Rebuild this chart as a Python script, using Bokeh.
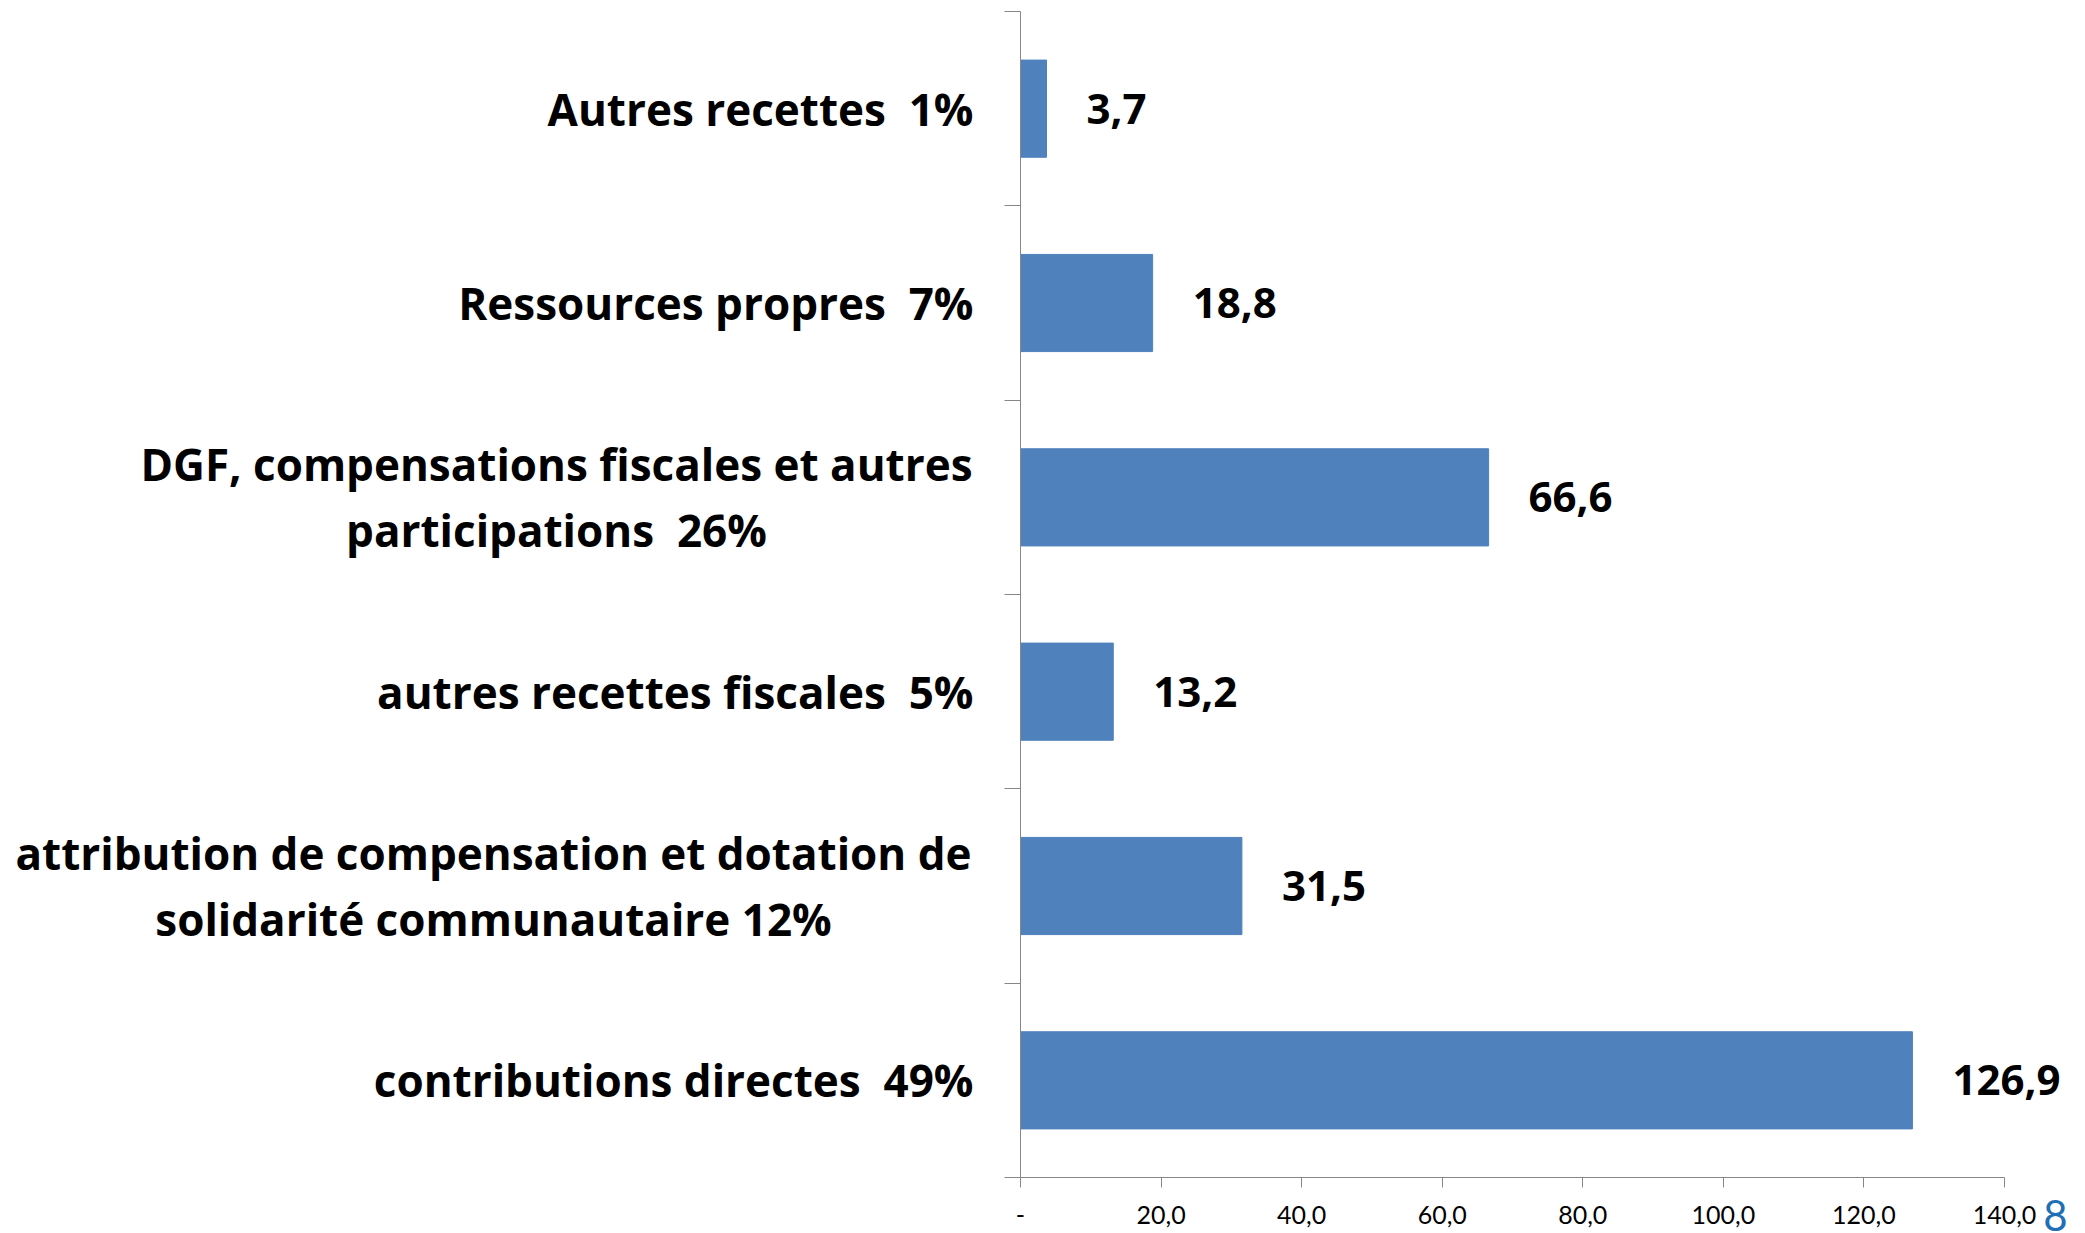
from bokeh.plotting import figure
from bokeh.models import Range1d, FixedTicker, Label, LabelSet, ColumnDataSource
from bokeh.core.properties import value
from bokeh.embed import file_html
from bokeh.resources import INLINE

NB = "\u00a0"  # keeps the double space visible in SVG text

# data (bottom to top)
categories = [
    f"contributions directes{NB} 49%",
    "attribution de compensation et dotation de\nsolidarité communautaire 12%",
    f"autres recettes fiscales{NB} 5%",
    f"DGF, compensations fiscales et autres\nparticipations{NB} 26%",
    f"Ressources propres{NB} 7%",
    f"Autres recettes{NB} 1%",
]
values = [126.9, 31.5, 13.2, 66.6, 18.8, 3.7]
x_ticks = [0, 20, 40, 60, 80, 100, 120, 140]
x_tick_labels = ["-", "20,0", "40,0", "60,0", "80,0", "100,0", "120,0", "140,0"]

FONT = "Lato"
BOLD_FONT = "Open Sans"
W, H = 2077, 1233
# layout (pixels on the canvas)
X0_PX, XMAX_PX = 1020, 2004
Y0_PX, YTOP_PX = 1177, 11
XMAX = 140
NCAT = len(values)

xs = (XMAX_PX - X0_PX) / XMAX
ys_ = (Y0_PX - YTOP_PX) / NCAT
x_range = Range1d(-X0_PX / xs, (W - X0_PX) / xs)
y_range = Range1d(-(H - Y0_PX) / ys_, NCAT + YTOP_PX / ys_)

p = figure(width=W, height=H, output_backend="svg", toolbar_location=None,
           x_range=x_range, y_range=y_range,
           min_border_left=0, min_border_right=0, min_border_top=0,
           min_border_bottom=0)
p.outline_line_color = None
p.xgrid.visible = False
p.ygrid.visible = False
p.background_fill_color = "white"

ys = [i + 0.5 for i in range(NCAT)]
src = ColumnDataSource(dict(y=ys, v=values,
                            lab=[f"{v:.1f}".replace(".", ",") for v in values]))
p.hbar(y="y", right="v", left=0, height=0.5, source=src,
       fill_color="#4F81BD", line_color="#4F81BD")

labels = LabelSet(x="v", y="y", text="lab", source=src, x_offset=40,
                  text_align="left", text_baseline="middle",
                  text_font=value(BOLD_FONT), text_font_style="bold",
                  text_font_size="42px", text_color="black")
p.add_layout(labels)

# x axis
xa = p.xaxis[0]
xa.fixed_location = 0
xa.bounds = (0, XMAX)
xa.ticker = FixedTicker(ticks=x_ticks, minor_ticks=[])
xa.major_label_overrides = {t: l for t, l in zip(x_ticks, x_tick_labels)}
xa.axis_line_color = "#878787"
xa.major_tick_line_color = "#878787"
xa.major_tick_out = 10
xa.major_tick_in = 0
xa.major_label_standoff = 18
xa.major_label_text_font = FONT
xa.major_label_text_font_size = "25px"
xa.major_label_text_color = "black"

# y axis
ya = p.yaxis[0]
ya.fixed_location = 0
ya.bounds = (0, NCAT)
ya.ticker = FixedTicker(ticks=[], minor_ticks=list(range(NCAT + 1)))
ya.axis_line_color = "#878787"
ya.minor_tick_line_color = "#878787"
ya.minor_tick_out = 16
ya.minor_tick_in = 0
ya.major_tick_line_color = None
ya.major_label_text_font_size = "0px"

# category labels
center_offsets = {1: -527, 3: -464}
for i, (c, y) in enumerate(zip(categories, ys)):
    if "\n" in c:
        lab = Label(x=0, y=y, x_units="data", y_units="data", text=c,
                    x_offset=center_offsets[i], text_align="center",
                    text_baseline="middle", text_line_height=1.1,
                    text_font=BOLD_FONT, text_font_style="bold",
                    text_font_size="44px", text_color="black")
    else:
        lab = Label(x=0, y=y, x_units="data", y_units="data", text=c,
                    x_offset=-47, text_align="right", text_baseline="middle",
                    text_font=BOLD_FONT, text_font_style="bold",
                    text_font_size="44px", text_color="black")
    p.add_layout(lab)

# slide number
p.add_layout(Label(x=2055, y=H - 1199, x_units="screen", y_units="screen",
                   text="8", text_align="center", text_baseline="top",
                   text_font=FONT, text_font_size="42px", text_color="#1F6FB5"))

open("out.html", "w").write(file_html(p, INLINE))
